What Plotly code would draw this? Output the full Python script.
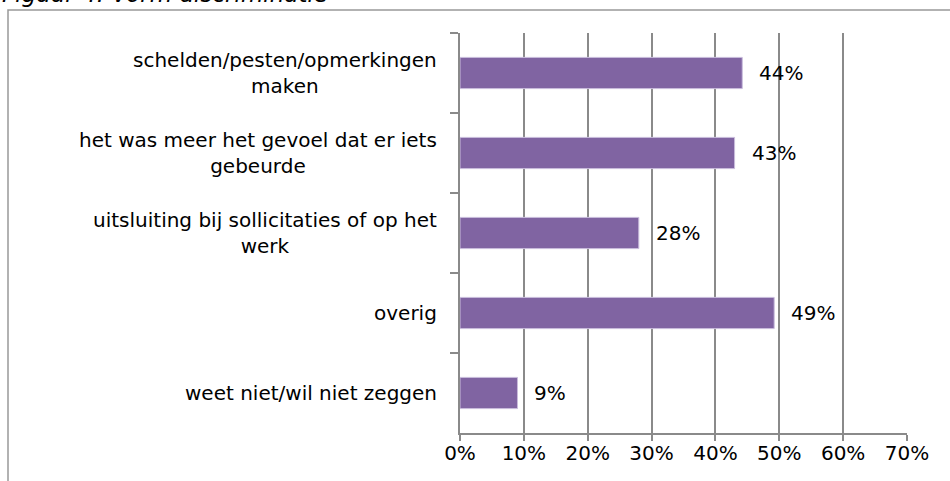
import plotly.graph_objects as go

categories = [
    "schelden/pesten/opmerkingen<br>maken",
    "het was meer het gevoel dat er iets<br>gebeurde",
    "uitsluiting bij sollicitaties of op het<br>werk",
    "overig",
    "weet niet/wil niet zeggen",
]
values = [0.442, 0.43, 0.28, 0.492, 0.09]
labels = ["44%", "43%", "28%", "49%", "9%"]
x_ticks = [0, 0.1, 0.2, 0.3, 0.4, 0.5, 0.6, 0.7]
x_ticklabels = ["0%", "10%", "20%", "30%", "40%", "50%", "60%", "70%"]
title_text = "Figuur 4: Vorm discriminatie"

W, H = 950, 481
L, R, T, B = 460, 43, 33, 48
pw, ph = W - L - R, H - T - B

FONT = "DejaVu Sans, Liberation Sans, Arial, sans-serif"
GRID = "#8a8a8a"
FS = 20

fig = go.Figure()
fig.add_trace(go.Bar(
    y=categories, x=values, orientation="h",
    marker=dict(color="#8064A2", line=dict(color="#c9bcdc", width=1)),
    width=0.39, hoverinfo="skip",
))

annotations = []
for c, v, t in zip(categories, values, labels):
    annotations.append(dict(x=v, y=c, xref="x", yref="y", text=t, showarrow=False,
                            xanchor="left", xshift=15, font=dict(size=FS, color="#000", family=FONT)))
    annotations.append(dict(x=0, y=c, xref="paper", yref="y", text=c, showarrow=False,
                            xanchor="right", align="center", xshift=-21,
                            font=dict(size=FS, color="#000", family=FONT)))

annotations.append(dict(x=(0 - L) / pw, y=(H - B + 6) / ph, xref="paper", yref="paper",
                        text=title_text, showarrow=False, xanchor="left", yanchor="middle",
                        font=dict(size=23, color="#000", family=FONT, style="italic")))

shapes = [dict(type="rect", xref="paper", yref="paper",
               x0=(8 - L) / pw, x1=(W + 20 - L) / pw,
               y0=-(B + 30) / ph, y1=(H - B - 10) / ph,
               line=dict(color="#999999", width=1.5), fillcolor="rgba(0,0,0,0)", layer="below")]

fig.update_layout(
    width=W, height=H,
    margin=dict(l=L, r=R, t=T, b=B, pad=0),
    paper_bgcolor="white", plot_bgcolor="white",
    showlegend=False,
    annotations=annotations,
    shapes=shapes,
    font=dict(family=FONT, size=FS, color="#000"),
    xaxis=dict(range=[0, 0.7], tickvals=x_ticks, ticktext=x_ticklabels,
               showgrid=True, gridcolor=GRID, gridwidth=1.5, zeroline=False,
               showline=True, linecolor=GRID, linewidth=1.5,
               ticks="outside", ticklen=6, tickcolor=GRID, tickwidth=1.5,
               ticklabelstandoff=-5,
               tickfont=dict(size=FS, family=FONT, color="#000"), fixedrange=True),
    yaxis=dict(categoryorder="array", categoryarray=categories, autorange="reversed",
               showticklabels=False, showgrid=False, zeroline=False,
               showline=True, linecolor=GRID, linewidth=1.5,
               ticks="outside", ticklen=8, tickcolor=GRID, tickwidth=1.5,
               tickson="boundaries", fixedrange=True),
)

fig.write_html("out.html", config={"displayModeBar": False},
               post_script="document.body.style.margin='0';")
